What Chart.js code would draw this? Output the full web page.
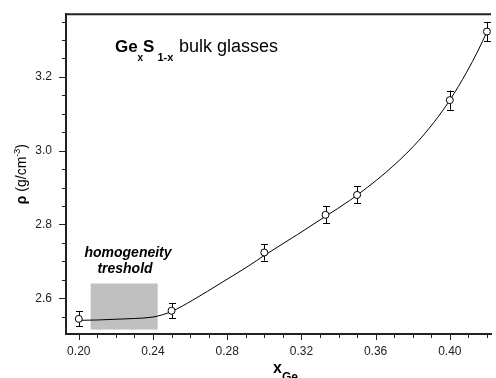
<!DOCTYPE html>
<html>
<head>
<meta charset="utf-8">
<script src="https://cdn.jsdelivr.net/npm/chart.js@4"></script>
<style>
  html, body { margin: 0; padding: 0; background: #fff; overflow: hidden; }
</style>
</head>
<body>
<canvas id="densityChart" width="496" height="378"></canvas>
<script>
// measured densities (open circles + error bars)
const compositions = [0.20, 0.25, 0.30, 0.333, 0.35, 0.40, 0.42];
const densities = [2.544, 2.566, 2.724, 2.826, 2.880, 3.137, 3.323];
const densityErrors = [0.020, 0.020, 0.022, 0.023, 0.023, 0.026, 0.026];

// fitted curve
const fitX = [0.200, 0.210, 0.220, 0.230, 0.240, 0.245, 0.250, 0.2615, 0.2775, 0.2917,
              0.300, 0.318, 0.333, 0.346, 0.3655, 0.3806, 0.3913, 0.400, 0.4091, 0.4153, 0.420];
const fitY = [2.540, 2.541, 2.543, 2.545, 2.549, 2.555, 2.564, 2.595, 2.644, 2.688,
              2.716, 2.773, 2.822, 2.865, 2.941, 3.013, 3.076, 3.137, 3.213, 3.272, 3.322];

// homogeneity threshold band
const thresholdX = [0.2064, 0.2425];
const thresholdY = [2.515, 2.640];

// axes
const xRange = [0.1931, 0.4222];
const yRange = [2.503, 3.370];
const xTickLabels = [0.20, 0.24, 0.28, 0.32, 0.36, 0.40];
const xMinorTicks = [0.21, 0.22, 0.23, 0.25, 0.26, 0.27, 0.29, 0.30, 0.31, 0.33, 0.34,
                     0.35, 0.37, 0.38, 0.39, 0.41, 0.42];
const yTickLabels = [2.6, 2.8, 3.0, 3.2];
const yMinorTicks = [2.55, 2.65, 2.70, 2.75, 2.85, 2.90, 2.95, 3.05, 3.10, 3.15,
                     3.25, 3.30, 3.35];

const FONT = "Arial, 'Liberation Sans', sans-serif";
const INK = "#222";

function drawRuns(ctx, x, y, runs) {
  runs.forEach((r) => {
    ctx.font = r.font;
    const at = r.x !== undefined ? r.x : x;
    ctx.fillText(r.text, at, y + (r.dy || 0));
    x = at + ctx.measureText(r.text).width;
  });
  return x;
}

function runsWidth(ctx, runs) {
  let w = 0;
  runs.forEach((r) => {
    ctx.font = r.font;
    w += ctx.measureText(r.text).width;
  });
  return w;
}

const decorPlugin = {
  id: "decor",
  beforeDatasetsDraw(chart) {
    const { ctx, scales: { x, y } } = chart;
    const l = x.getPixelForValue(thresholdX[0]);
    const r = x.getPixelForValue(thresholdX[1]);
    const t = y.getPixelForValue(thresholdY[1]);
    const b = y.getPixelForValue(thresholdY[0]);
    ctx.save();
    ctx.fillStyle = "#c0c0c0";
    ctx.fillRect(l, t, r - l, b - t);
    ctx.restore();
  },
  afterDatasetDraw(chart, args) {
    if (args.index !== 1) return;
    // error bars go under the circles
    const { ctx, scales: { x, y } } = chart;
    ctx.save();
    ctx.strokeStyle = "#000";
    ctx.lineWidth = 1;
    compositions.forEach((c, i) => {
      const px = Math.round(x.getPixelForValue(c)) + 0.5;
      const top = y.getPixelForValue(densities[i] + densityErrors[i]);
      const bot = y.getPixelForValue(densities[i] - densityErrors[i]);
      ctx.beginPath();
      ctx.moveTo(px, top);
      ctx.lineTo(px, bot);
      ctx.moveTo(px - 3.5, Math.round(top) + 0.5);
      ctx.lineTo(px + 3.5, Math.round(top) + 0.5);
      ctx.moveTo(px - 3.5, Math.round(bot) + 0.5);
      ctx.lineTo(px + 3.5, Math.round(bot) + 0.5);
      ctx.stroke();
    });
    ctx.restore();
  },
  afterDraw(chart) {
    const { ctx, chartArea: area, scales: { x, y } } = chart;
    ctx.save();

    // frame top line
    ctx.strokeStyle = INK;
    ctx.lineWidth = 2;
    ctx.beginPath();
    ctx.moveTo(area.left, area.top);
    ctx.lineTo(area.right, area.top);
    ctx.stroke();

    // tick marks
    ctx.lineWidth = 1;
    ctx.beginPath();
    xTickLabels.forEach((v) => {
      const px = Math.round(x.getPixelForValue(v)) + 0.5;
      ctx.moveTo(px, area.bottom);
      ctx.lineTo(px, area.bottom + 6);
    });
    xMinorTicks.forEach((v) => {
      const px = Math.round(x.getPixelForValue(v)) + 0.5;
      ctx.moveTo(px, area.bottom);
      ctx.lineTo(px, area.bottom + 4);
    });
    yTickLabels.forEach((v) => {
      const py = Math.round(y.getPixelForValue(v)) + 0.5;
      ctx.moveTo(area.left, py);
      ctx.lineTo(area.left - 7, py);
    });
    yMinorTicks.forEach((v) => {
      const py = Math.round(y.getPixelForValue(v)) + 0.5;
      ctx.moveTo(area.left, py);
      ctx.lineTo(area.left - 4, py);
    });
    ctx.stroke();

    ctx.fillStyle = "#000";
    ctx.textBaseline = "alphabetic";
    ctx.textAlign = "left";

    // title
    drawRuns(ctx, 115, 52, [
      { text: "Ge", font: "bold 17px " + FONT },
      { text: "x", font: "bold 10px " + FONT, dy: 9, x: 137.5 },
      { text: "S", font: "bold 17px " + FONT, x: 143 },
      { text: "1-x", font: "bold 11px " + FONT, dy: 9, x: 157.5 },
      { text: "bulk glasses", font: "18px " + FONT, x: 179 },
    ]);

    // homogeneity label
    ctx.textAlign = "center";
    ctx.font = "italic bold 14px " + FONT;
    ctx.fillText("homogeneity", 128, 257);
    ctx.fillText("treshold", 125, 273);
    ctx.textAlign = "left";

    // x axis title
    drawRuns(ctx, 273, 373, [
      { text: "x", font: "bold 16px " + FONT },
      { text: "Ge", font: "bold 12px " + FONT, dy: 8 },
    ]);

    // y axis title
    const yRuns = [
      { text: "\u03c1", font: "bold 14px " + FONT },
      { text: " (g/cm", font: "14px " + FONT },
      { text: "-3", font: "9px " + FONT, dy: -6 },
      { text: ")", font: "14px " + FONT },
    ];
    ctx.translate(26, (area.top + area.bottom) / 2);
    ctx.rotate(-Math.PI / 2);
    drawRuns(ctx, -runsWidth(ctx, yRuns) / 2, 0, yRuns);

    ctx.restore();
  },
};

const ctx = document.getElementById("densityChart").getContext("2d");
new Chart(ctx, {
  data: {
    datasets: [
      {
        type: "scatter",
        label: "measured",
        data: compositions.map((c, i) => ({ x: c, y: densities[i] })),
        pointRadius: 3.5,
        pointBackgroundColor: "#fff",
        pointBorderColor: "#000",
        pointBorderWidth: 1,
        clip: false,
      },
      {
        type: "line",
        label: "fit",
        data: fitX.map((v, i) => ({ x: v, y: fitY[i] })),
        borderColor: "#000",
        borderWidth: 1,
        pointRadius: 0,
        fill: false,
        cubicInterpolationMode: "monotone",
      },
    ],
  },
  options: {
    responsive: false,
    animation: false,
    devicePixelRatio: 1,
    layout: { padding: { top: 12, left: 0, right: 0, bottom: 0 } },
    plugins: { legend: { display: false }, tooltip: { enabled: false } },
    scales: {
      x: {
        type: "linear",
        min: xRange[0],
        max: xRange[1],
        afterBuildTicks: (scale) => {
          scale.ticks = xTickLabels.map((v) => ({ value: v }));
        },
        afterFit: (scale) => {
          scale.height = 44;
        },
        grid: { drawOnChartArea: false, drawTicks: true, tickLength: 6, color: "transparent" },
        border: { display: true, color: INK, width: 2 },
        ticks: {
          color: INK,
          padding: 4,
          maxRotation: 0,
          font: { family: FONT, size: 12 },
          callback: (v) => Number(v).toFixed(2),
        },
      },
      y: {
        type: "linear",
        min: yRange[0],
        max: yRange[1],
        afterBuildTicks: (scale) => {
          scale.ticks = yTickLabels.map((v) => ({ value: v }));
        },
        afterFit: (scale) => {
          scale.width = 66;
        },
        grid: { drawOnChartArea: false, drawTicks: true, tickLength: 7, color: "transparent" },
        border: { display: true, color: INK, width: 2 },
        ticks: {
          color: INK,
          padding: 7,
          font: { family: FONT, size: 12 },
          callback: (v) => Number(v).toFixed(1),
        },
      },
    },
  },
  plugins: [decorPlugin],
});
</script>
</body>
</html>
